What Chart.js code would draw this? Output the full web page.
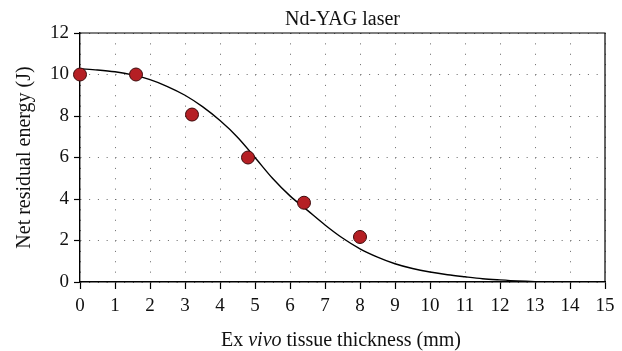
<!DOCTYPE html>
<html>
<head>
<meta charset="utf-8">
<script src="https://cdn.jsdelivr.net/npm/chart.js@4"></script>
<style>
  html, body { margin: 0; padding: 0; background: #fff; }
  #wrap { width: 622px; height: 351px; position: relative; }
</style>
</head>
<body>
<div id="wrap"><canvas id="myChart"></canvas></div>
<script>
// measured points
var thickness = [0, 1.6, 3.2, 4.8, 6.4, 8]
var energy = [10, 10, 8.07, 6.0, 3.82, 2.17]

// fitted curve
var fitX = [0, 0.5, 1, 1.5, 2, 2.5, 3, 3.5, 4, 4.5, 5, 5.5, 6, 6.5, 7, 7.5, 8, 8.5, 9, 9.5, 10, 10.5, 11, 11.5, 12, 12.5, 13, 13.5, 14, 14.5, 15]
var fitY = [10.28, 10.22, 10.13, 9.98, 9.75, 9.42, 9.0, 8.45, 7.78, 6.98, 6.0, 5.0, 4.15, 3.45, 2.75, 2.12, 1.6, 1.2, 0.88, 0.65, 0.48, 0.35, 0.25, 0.16, 0.1, 0.05, 0.02, 0.01, 0, 0, 0]

var title = 'Nd-YAG laser'
var yTitle = 'Net residual energy (J)'
var xTitleParts = [['Ex ', 'normal'], ['vivo', 'italic'], [' tissue thickness (mm)', 'normal']]

var serif = '"Liberation Serif", "DejaVu Serif", serif'

var pts = thickness.map(function (x, i) { return { x: x, y: energy[i] } })
var curve = fitX.map(function (x, i) { return { x: x, y: fitY[i] } })

var frame = {
  id: 'frame',
  afterDraw: function (chart) {
    var a = chart.chartArea
    var c = chart.ctx
    c.save()
    c.strokeStyle = '#000'
    c.lineWidth = 1.2
    c.beginPath()
    c.moveTo(a.left, a.top)
    c.lineTo(a.right, a.top)
    c.lineTo(a.right, a.bottom)
    c.stroke()

    c.fillStyle = '#111'
    c.font = '20px ' + serif
    c.textAlign = 'center'
    c.textBaseline = 'alphabetic'
    c.fillText(title, (a.left + a.right) / 2, 25)

    // x title with italic "vivo"
    var w = 0
    xTitleParts.forEach(function (p) {
      c.font = p[1] + ' 20px ' + serif
      w += c.measureText(p[0]).width
    })
    var x = 341 - w / 2
    c.textAlign = 'left'
    xTitleParts.forEach(function (p) {
      c.font = p[1] + ' 20px ' + serif
      c.fillText(p[0], x, 346)
      x += c.measureText(p[0]).width
    })

    // y title
    c.translate(29.5, (a.top + a.bottom) / 2)
    c.rotate(-Math.PI / 2)
    c.font = '20px ' + serif
    c.textAlign = 'center'
    c.fillText(yTitle, 0, 0)
    c.restore()
  }
}

var ctx = document.getElementById('myChart')
var myChart = new Chart(ctx, {
  type: 'scatter',
  data: {
    datasets: [{
      label: 'measured',
      data: pts,
      backgroundColor: '#b51f24',
      borderColor: '#3d0a0b',
      borderWidth: 1,
      pointRadius: 6.5,
      pointHoverRadius: 6.5,
      clip: false
    }, {
      label: 'fit',
      data: curve,
      showLine: true,
      borderColor: '#000',
      borderWidth: 1.4,
      pointRadius: 0,
      cubicInterpolationMode: 'monotone'
    }]
  },
  options: {
    responsive: true,
    maintainAspectRatio: false,
    animation: false,
    layout: { padding: { top: 33, right: 17, left: 0, bottom: 0 } },
    plugins: {
      legend: { display: false },
      tooltip: { enabled: false }
    },
    scales: {
      x: {
        type: 'linear',
        min: 0,
        max: 15,
        afterFit: function (s) { s.height = 69 },
        ticks: { stepSize: 1, padding: 6, color: '#111', font: { family: serif, size: 19 } },
        grid: { color: '#666', lineWidth: 1, tickLength: 7, tickColor: '#000', tickWidth: 1.2, tickBorderDash: [] },
        border: { display: true, color: '#000', width: 1.4, dash: [1, 9.375] }
      },
      y: {
        min: 0,
        max: 12,
        afterFit: function (s) { s.width = 80 },
        ticks: { stepSize: 2, padding: 5, color: '#111', font: { family: serif, size: 19 } },
        grid: { color: '#666', lineWidth: 1, tickLength: 6, tickColor: '#000', tickWidth: 1.2, tickBorderDash: [] },
        border: { display: true, color: '#000', width: 1.4, dash: [1, 7.75] }
      }
    }
  },
  plugins: [frame]
})
</script>
</body>
</html>
